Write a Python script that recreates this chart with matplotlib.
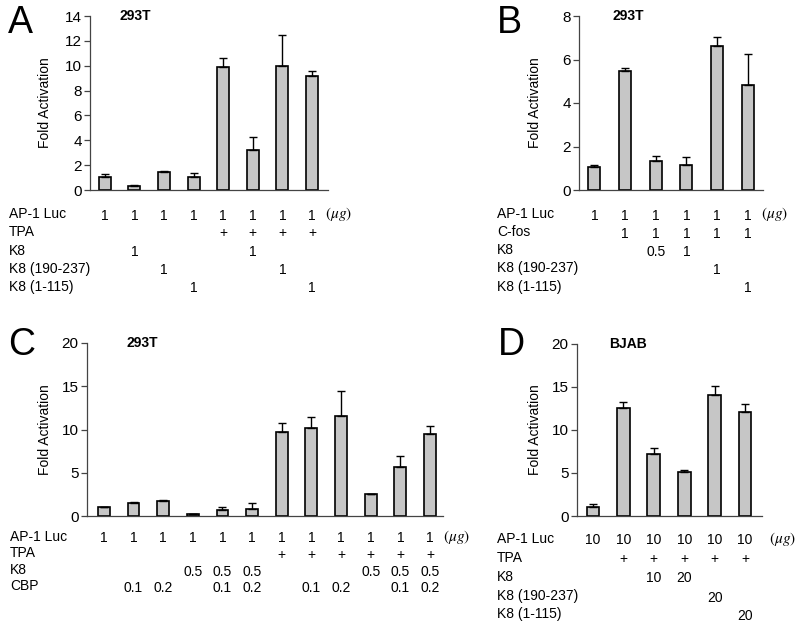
import numpy as np
import matplotlib.pyplot as plt
import matplotlib.transforms as mtransforms

plt.rcParams['font.family'] = ['Liberation Sans', 'DejaVu Sans']
plt.rcParams['mathtext.fontset'] = 'stix'

# Panel A
a_vals = [1.05, 0.3, 1.45, 1.05, 9.9, 3.25, 10.0, 9.15]
a_err = [0.25, 0.1, 0.1, 0.3, 0.7, 1.05, 2.5, 0.45]
a_rows = ['AP-1 Luc', 'TPA', 'K8', 'K8 (190-237)', 'K8 (1-115)']
a_cells = [['1', '1', '1', '1', '1', '1', '1', '1'],
           ['', '', '', '', '+', '+', '+', '+'],
           ['', '1', '', '', '', '1', '', ''],
           ['', '', '1', '', '', '', '1', ''],
           ['', '', '', '1', '', '', '', '1']]

# Panel B
b_vals = [1.05, 5.45, 1.35, 1.15, 6.6, 4.85]
b_err = [0.1, 0.15, 0.2, 0.35, 0.45, 1.4]
b_rows = ['AP-1 Luc', 'C-fos', 'K8', 'K8 (190-237)', 'K8 (1-115)']
b_cells = [['1', '1', '1', '1', '1', '1'],
           ['', '1', '1', '1', '1', '1'],
           ['', '', '0.5', '1', '', ''],
           ['', '', '', '', '1', ''],
           ['', '', '', '', '', '1']]

# Panel C
c_vals = [1.0, 1.45, 1.75, 0.25, 0.7, 0.85, 9.75, 10.2, 11.55, 2.55, 5.7, 9.45]
c_err = [0.0, 0.15, 0.1, 0.0, 0.3, 0.6, 1.05, 1.3, 2.85, 0.0, 1.2, 0.95]
c_rows = ['AP-1 Luc', 'TPA', 'K8', 'CBP']
c_cells = [['1'] * 12,
           ['', '', '', '', '', '', '+', '+', '+', '+', '+', '+'],
           ['', '', '', '0.5', '0.5', '0.5', '', '', '', '0.5', '0.5', '0.5'],
           ['', '0.1', '0.2', '', '0.1', '0.2', '', '0.1', '0.2', '', '0.1', '0.2']]

# Panel D
d_vals = [1.05, 12.55, 7.25, 5.15, 14.05, 12.05]
d_err = [0.35, 0.65, 0.6, 0.15, 1.05, 0.95]
d_rows = ['AP-1 Luc', 'TPA', 'K8', 'K8 (190-237)', 'K8 (1-115)']
d_cells = [['10', '10', '10', '10', '10', '10'],
           ['', '+', '+', '+', '+', '+'],
           ['', '', '10', '20', '', ''],
           ['', '', '', '', '20', ''],
           ['', '', '', '', '', '20']]

W, H = 800, 624
fig = plt.figure(figsize=(W / 100, H / 100), dpi=100)


def px_axes(l, r, t, b):
    return fig.add_axes([l / W, 1 - b / H, (r - l) / W, (b - t) / H])


def panel(box, vals, err, ymax, step, xlim, width, letter, letter_xy, title, title_x,
          rows, cells, label_x, row_y, ug_x, ylabel_x):
    ax = px_axes(*box)
    x = np.arange(len(vals))
    ax.bar(x, vals, width=width, color='#c6c6c6', edgecolor='black', linewidth=1.2, zorder=2)
    ax.errorbar(x, vals, yerr=[np.zeros(len(err)), err], fmt='none', ecolor='black',
                elinewidth=1, capsize=3, capthick=1, zorder=3)
    ax.set_xlim(*xlim)
    ax.set_ylim(0, ymax)
    ax.set_yticks(np.arange(0, ymax + 0.01, step))
    ax.set_xticks([])
    for s in ['top', 'right']:
        ax.spines[s].set_visible(False)
    for s in ['left', 'bottom']:
        ax.spines[s].set_color('#444444')
        ax.spines[s].set_linewidth(0.9)
    ax.tick_params(axis='y', direction='out', length=4, width=0.9, color='#444444', pad=2,
                   labelsize=11)
    ax.text(title_x, 1.0, title, transform=ax.transAxes, ha='center', va='center',
            fontsize=10, fontweight='bold')
    fig.text(letter_xy[0] / W, 1 - letter_xy[1] / H, letter, fontsize=27,
             ha='center', va='center')
    fig.text(ylabel_x / W, 1 - (box[2] + box[3]) / 2 / H, 'Fold Activation', rotation=90,
             ha='center', va='center', fontsize=10)
    tr = mtransforms.blended_transform_factory(ax.transData, fig.transFigure)
    for i, name in enumerate(rows):
        fig.text(label_x / W, 1 - row_y[i] / H, name, ha='left', va='center', fontsize=10)
        for j, c in enumerate(cells[i]):
            if c:
                ax.text(x[j], 1 - (row_y[i] + 1.5) / H, c, transform=tr, ha='center',
                        va='center', fontsize=10, clip_on=False)
    ax.text(ug_x, 1 - row_y[0] / H, r'$(\mu g)$', transform=tr, ha='center', va='center',
            fontsize=11, clip_on=False)
    return ax


panel((90, 328, 16, 190), a_vals, a_err, 14, 2, (-0.5, 7.54), 0.4, 'A', (20, 23),
      '293T', 0.19, a_rows, a_cells, 9, [214, 232, 251, 269, 287], 7.9, 45)
panel((579, 763, 16, 190), b_vals, b_err, 8, 2, (-0.5, 5.5), 0.4, 'B', (509, 23),
      '293T', 0.27, b_rows, b_cells, 497, [214, 232, 250, 268, 287], 5.88, 535)
panel((87, 443, 343, 516), c_vals, c_err, 20, 5, (-0.57, 11.44), 0.4, 'C', (22, 345),
      '293T', 0.155, c_rows, c_cells, 10, [537, 553, 570, 586], 11.9, 45)
panel((577, 762, 344, 516), d_vals, d_err, 20, 5, (-0.53, 5.56), 0.42, 'D', (511, 345),
      'BJAB', 0.276, d_rows, d_cells, 497, [539, 558, 577, 596, 614], 6.25, 535)

fig.savefig('out.png', dpi=100)
